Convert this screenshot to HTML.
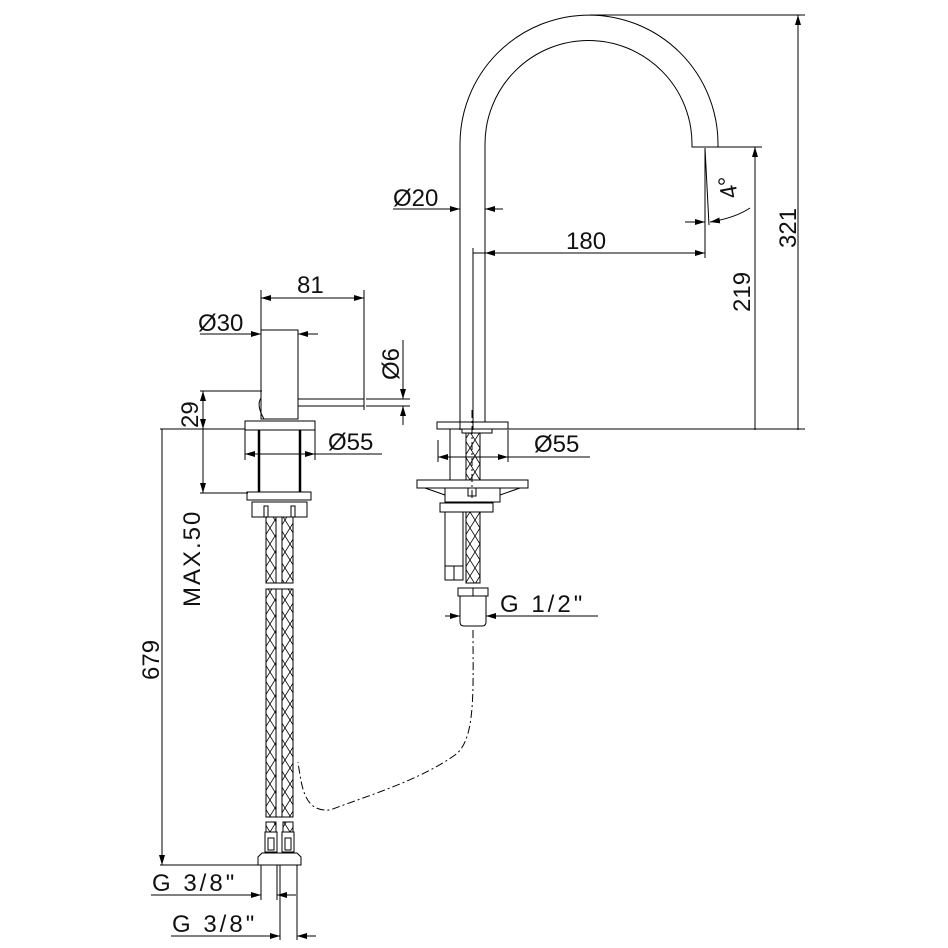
<!DOCTYPE html>
<html><head><meta charset="utf-8"><style>
html,body{margin:0;padding:0;background:#fff}
svg{display:block}
text{font-family:"Liberation Sans",sans-serif;font-size:24px;fill:#111}
</style></head><body>
<svg width="948" height="948" viewBox="0 0 948 948" xmlns="http://www.w3.org/2000/svg">
<defs>
<marker id="a" viewBox="0 0 10 6" refX="10" refY="3" markerWidth="10" markerHeight="6" orient="auto-start-reverse" markerUnits="userSpaceOnUse"><path d="M0,0 L10,3 L0,6z" fill="#000"/></marker>
<pattern id="h" width="10" height="16" patternUnits="userSpaceOnUse"><path d="M0,0 L10,16 M10,0 L0,16" stroke="#000" stroke-width="0.8"/></pattern>
</defs>
<g fill="none" stroke="#000" stroke-width="1">
<path d="M460,430 V144 A129,129 0 0 1 718,144 V147 H692 V144 A103.5,103.5 0 0 0 485,144 V422"/>
<line x1="590" y1="15" x2="805" y2="15"/>
<line x1="798" y1="430" x2="798" y2="15" marker-end="url(#a)"/>
<line x1="705" y1="147" x2="762" y2="147"/>
<line x1="755" y1="430" x2="755" y2="147" marker-end="url(#a)"/>
<line x1="508" y1="429" x2="805" y2="429"/>
<line x1="705" y1="148" x2="705" y2="258"/>
<line x1="705" y1="148" x2="709" y2="225"/>
<line x1="473" y1="248" x2="473" y2="430"/>
<line x1="473" y1="253" x2="485" y2="253"/>
<line x1="485" y1="253" x2="705" y2="253" marker-start="url(#a)" marker-end="url(#a)"/>
<line x1="393" y1="209" x2="460" y2="209" marker-end="url(#a)"/>
<line x1="503" y1="209" x2="485" y2="209" marker-end="url(#a)"/>
<line x1="685" y1="222" x2="705" y2="222" marker-end="url(#a)"/>
<path d="M750,208 Q735,218 710,222" marker-end="url(#a)"/>
<rect x="437" y="422" width="71" height="7"/>
<line x1="450" y1="429" x2="450" y2="480"/>
<line x1="472" y1="410" x2="472" y2="500" stroke-dasharray="8,3,2,3"/>
<rect x="462" y="429" width="30" height="4"/>
<rect x="466" y="433" width="14" height="47" fill="url(#h)"/>
<line x1="438" y1="440" x2="438" y2="462"/><line x1="508" y1="430" x2="508" y2="462"/>
<line x1="438" y1="457" x2="590" y2="457" marker-start="url(#a)"/>
<line x1="438" y1="457" x2="508" y2="457" marker-end="url(#a)"/>
<rect x="417" y="480" width="111" height="8"/>
<path d="M425,488 L445,495 M520,488 L500,495"/>
<rect x="445" y="488" width="55" height="14"/>
<rect x="468" y="488" width="8" height="8"/>
<rect x="440" y="503" width="53" height="9"/>
<rect x="445" y="512" width="18" height="68"/>
<line x1="445" y1="566" x2="463" y2="566"/><line x1="454" y1="566" x2="454" y2="580"/>
<rect x="466" y="512" width="14" height="71" fill="url(#h)"/>
<rect x="458" y="588" width="30" height="8"/><line x1="473" y1="588" x2="473" y2="596"/>
<path d="M460,596 V622 Q460,626 464,626 H482 Q486,626 486,622 V596"/>
<line x1="445" y1="616" x2="460" y2="616" marker-end="url(#a)"/>
<line x1="598" y1="616" x2="486" y2="616" marker-end="url(#a)"/>
<path d="M473,630 C473,690 476,740 455,755 C420,780 370,795 330,810 C305,812 302,790 298,762" stroke-dasharray="8,3,2,3"/>
<rect x="261" y="330" width="37" height="89"/>
<path d="M261,398 Q256,405 264,419"/>
<path d="M298,399 H364 V406 H298"/>
<line x1="261" y1="290" x2="261" y2="330"/><line x1="364" y1="290" x2="364" y2="410"/>
<line x1="261" y1="298" x2="364" y2="298" marker-start="url(#a)" marker-end="url(#a)"/>
<line x1="200" y1="334" x2="261" y2="334" marker-end="url(#a)"/>
<line x1="318" y1="334" x2="298" y2="334" marker-end="url(#a)"/>
<line x1="366" y1="399" x2="410" y2="399"/><line x1="366" y1="406" x2="410" y2="406"/>
<line x1="403" y1="340" x2="403" y2="399" marker-end="url(#a)"/>
<line x1="403" y1="425" x2="403" y2="406" marker-end="url(#a)"/>
<line x1="200" y1="391" x2="262" y2="391"/>
<line x1="203" y1="391" x2="203" y2="429" marker-start="url(#a)" marker-end="url(#a)"/>
<line x1="160" y1="429" x2="245" y2="429"/>
<line x1="203" y1="429" x2="203" y2="493" marker-end="url(#a)"/>
<line x1="200" y1="493" x2="248" y2="493"/>
<line x1="162" y1="429" x2="162" y2="865" marker-end="url(#a)"/>
<line x1="160" y1="865" x2="260" y2="865"/>
<rect x="245" y="421" width="70" height="9"/>
<line x1="259" y1="430" x2="259" y2="492" stroke-width="2.5"/>
<line x1="300" y1="430" x2="300" y2="492" stroke-width="2.5"/>
<line x1="245" y1="430" x2="245" y2="460"/><line x1="315" y1="430" x2="315" y2="460"/>
<line x1="245" y1="454" x2="382" y2="454" marker-start="url(#a)"/>
<line x1="245" y1="454" x2="315" y2="454" marker-end="url(#a)"/>
<rect x="247" y="492" width="64" height="8"/>
<rect x="252" y="502" width="55" height="15"/>
<rect x="264" y="506" width="4" height="11"/><rect x="291" y="506" width="4" height="11"/>
<rect x="266" y="517" width="10" height="66" fill="url(#h)"/>
<rect x="276" y="517" width="6" height="66"/>
<rect x="282" y="517" width="11" height="66" fill="url(#h)"/>
<rect x="266" y="589" width="10" height="228" fill="url(#h)"/>
<rect x="276" y="589" width="6" height="228"/>
<rect x="282" y="589" width="11" height="228" fill="url(#h)"/>
<rect x="266" y="822" width="10" height="10" fill="url(#h)"/><rect x="283" y="822" width="10" height="10" fill="url(#h)"/>
<rect x="265" y="832" width="12" height="20"/><rect x="282" y="832" width="12" height="20"/>
<rect x="268" y="838" width="6" height="12"/><rect x="285" y="838" width="6" height="12"/>
<path d="M258,865 V857 L262,853 H297 L301,857 V865 Z"/>
<line x1="261" y1="865" x2="261" y2="900"/><line x1="277" y1="865" x2="277" y2="900"/>
<line x1="280" y1="865" x2="280" y2="940"/><line x1="297" y1="865" x2="297" y2="940"/>
<line x1="151" y1="895" x2="261" y2="895" marker-end="url(#a)"/>
<line x1="296" y1="895" x2="277" y2="895" marker-end="url(#a)"/>
<line x1="171" y1="936" x2="280" y2="936" marker-end="url(#a)"/>
<line x1="316" y1="936" x2="297" y2="936" marker-end="url(#a)"/>
</g>
<text x="297" y="293">81</text>
<text x="198" y="331">Ø30</text>
<text x="328" y="450">Ø55</text>
<text x="393" y="206">Ø20</text>
<text x="566" y="249">180</text>
<text x="534" y="452">Ø55</text>
<text x="500" y="612" letter-spacing="3">G 1/2"</text>
<text x="152" y="891" letter-spacing="3">G 3/8"</text>
<text x="172" y="932" letter-spacing="3">G 3/8"</text>
<text transform="translate(399,380) rotate(-90)">Ø6</text>
<text transform="translate(198,428) rotate(-90)">29</text>
<text transform="translate(200,607) rotate(-90)" letter-spacing="2">MAX.50</text>
<text transform="translate(159,680) rotate(-90)">679</text>
<text transform="translate(750,312) rotate(-90)">219</text>
<text transform="translate(796,248) rotate(-90)">321</text>
<text transform="translate(738,197) rotate(-100)">4°</text>
</svg>
</body></html>
